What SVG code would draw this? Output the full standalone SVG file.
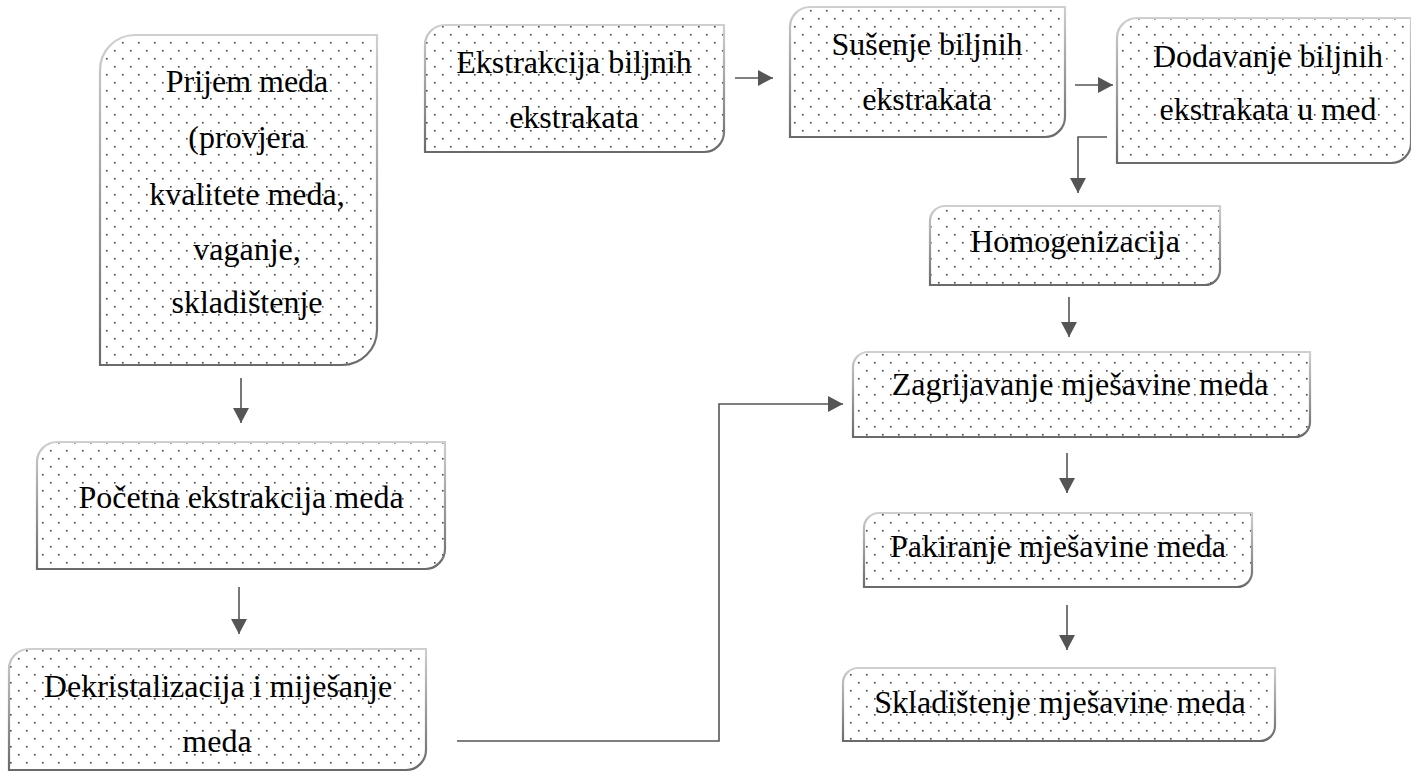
<svg xmlns="http://www.w3.org/2000/svg" width="1411" height="773" viewBox="0 0 1411 773">
<style>
.box{fill:url(#dots);stroke:url(#edge);stroke-width:2.2}
.t{font-family:"Liberation Serif","DejaVu Serif",serif;font-size:32px;fill:#000;text-anchor:middle}
.c{fill:none;stroke:#555;stroke-width:1.6;marker-end:url(#ah)}
</style>
<defs>
<pattern id="dots" patternUnits="userSpaceOnUse" width="16" height="16">
<rect width="16" height="16" fill="#fff"/>
<rect x="2" y="2" width="1.6" height="1.6" fill="#444"/>
<rect x="10" y="10" width="1.6" height="1.6" fill="#444"/>
</pattern>
<linearGradient id="edge" x1="0" y1="0" x2="0" y2="1">
<stop offset="0" stop-color="#cfcfcf"/>
<stop offset="1" stop-color="#6a6a6a"/>
</linearGradient>
<marker id="ah" markerUnits="userSpaceOnUse" markerWidth="16" markerHeight="16" refX="15" refY="8" orient="auto">
<path d="M0,0 L15,8 L0,16 Z" fill="#555"/>
</marker>
</defs>
<rect width="1411" height="773" fill="#fff"/>

<g id="connectors">
<path class="c" d="M241,378 V423"/>
<path class="c" d="M239,587 V634"/>
<path class="c" d="M457,741 H719 V404 H843"/>
<path class="c" d="M735,78 H773"/>
<path class="c" d="M1075,85 H1113"/>
<path class="c" d="M1107,137 H1078 V193"/>
<path class="c" d="M1069,297 V337"/>
<path class="c" d="M1067,453 V493"/>
<path class="c" d="M1067,605 V650"/>
</g>

<g id="n-prijem">
<path class="box" d="M100,70 A35,35 0 0 1 135,35 H377 V330 A35,35 0 0 1 342,365 H100 Z"/>
<text class="t" x="247" y="92">Prijem meda</text>
<text class="t" x="247" y="148">(provjera</text>
<text class="t" x="247" y="205">kvalitete meda,</text>
<text class="t" x="247" y="260">vaganje,</text>
<text class="t" x="247" y="313">skladištenje</text>
</g>

<g id="n-pocetna">
<path class="box" d="M37,462 A20,20 0 0 1 57,442 H445 V549 A20,20 0 0 1 425,569 H37 Z"/>
<text class="t" x="241" y="508">Početna ekstrakcija meda</text>
</g>

<g id="n-dekristalizacija">
<path class="box" d="M9,669 A20,20 0 0 1 29,649 H426 V750 A20,20 0 0 1 406,770 H9 Z"/>
<text class="t" x="218" y="697">Dekristalizacija i miješanje</text>
<text class="t" x="217" y="752">meda</text>
</g>

<g id="n-ekstrakcija">
<path class="box" d="M425,45 A20,20 0 0 1 445,25 H724 V132 A20,20 0 0 1 704,152 H425 Z"/>
<text class="t" x="574" y="73">Ekstrakcija biljnih</text>
<text class="t" x="574" y="128">ekstrakata</text>
</g>

<g id="n-susenje">
<path class="box" d="M790,27 A20,20 0 0 1 810,7 H1065 V117 A20,20 0 0 1 1045,137 H790 Z"/>
<text class="t" x="927" y="55">Sušenje biljnih</text>
<text class="t" x="927" y="110">ekstrakata</text>
</g>

<g id="n-dodavanje">
<path class="box" d="M1117,38 A20,20 0 0 1 1137,18 H1411 V143 A20,20 0 0 1 1391,163 H1117 Z"/>
<text class="t" x="1268" y="67">Dodavanje biljnih</text>
<text class="t" x="1268" y="120">ekstrakata u med</text>
</g>

<g id="n-homogenizacija">
<path class="box" d="M930,221 A15,15 0 0 1 945,206 H1220 V270 A15,15 0 0 1 1205,285 H930 Z"/>
<text class="t" x="1075" y="252">Homogenizacija</text>
</g>

<g id="n-zagrijavanje">
<path class="box" d="M853,367 A15,15 0 0 1 868,352 H1310 V422 A15,15 0 0 1 1295,437 H853 Z"/>
<text class="t" x="1080" y="395">Zagrijavanje mješavine meda</text>
</g>

<g id="n-pakiranje">
<path class="box" d="M864,528 A15,15 0 0 1 879,513 H1252 V572 A15,15 0 0 1 1237,587 H864 Z"/>
<text class="t" x="1058" y="557">Pakiranje mješavine meda</text>
</g>

<g id="n-skladistenje">
<path class="box" d="M843,683 A15,15 0 0 1 858,668 H1275 V726 A15,15 0 0 1 1260,741 H843 Z"/>
<text class="t" x="1060" y="713">Skladištenje mješavine meda</text>
</g>
</svg>
